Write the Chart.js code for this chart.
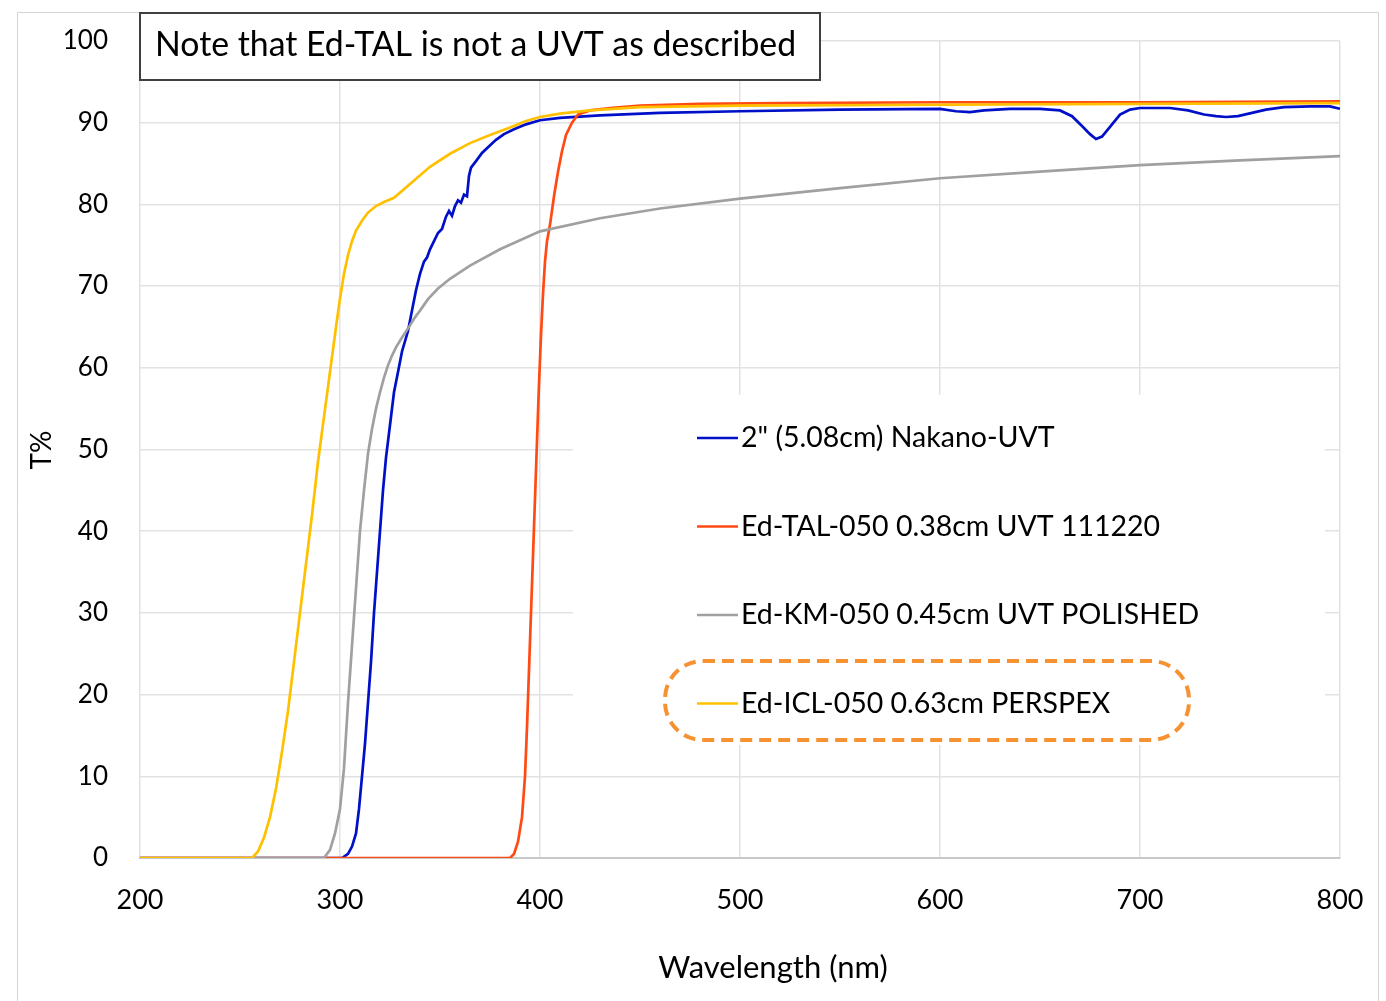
<!DOCTYPE html>
<html>
<head>
<meta charset="utf-8">
<script src="https://cdn.jsdelivr.net/npm/chart.js@4.4.1/dist/chart.umd.min.js"></script>
<style>
  body { margin: 0; background: #fff; }
  #wrap { width: 1386px; height: 1001px; }
</style>
</head>
<body>
<div id="wrap"><canvas id="chart" width="1386" height="1001"></canvas></div>
<script>
// --- data (wavelength nm / transmission %) ---
const X_TICKS = [200, 300, 400, 500, 600, 700, 800];
const Y_TICKS = [0, 10, 20, 30, 40, 50, 60, 70, 80, 90, 100];

const SERIES_NAMES = [
    '2" (5.08cm) Nakano-UVT',
    'Ed-TAL-050 0.38cm UVT 111220',
    'Ed-KM-050 0.45cm UVT POLISHED',
    'Ed-ICL-050 0.63cm PERSPEX'
];
const SERIES_COLORS = ['#0010C8', '#FF4A14', '#A0A0A0', '#FFC000'];

const nakanoNm = [200, 301, 304, 306, 308, 309.5, 311, 312.5, 314, 315.5, 317, 318.5, 320, 321.5, 323, 325, 327, 329, 331, 334,
    336, 338, 340, 342, 343.5, 345, 347, 349, 351, 353, 354.5, 356, 357.5, 359, 360.5, 362, 363.5, 364.5, 365.5, 368,
    371, 374, 378, 382, 387, 393, 400, 410, 430, 460, 500, 550, 600, 608, 615, 622, 635, 650, 660, 666,
    671, 675, 678, 681, 685, 690, 695, 700, 715, 724, 732, 738, 743, 749, 756, 763, 772, 785, 795, 800];
const nakanoT = [0, 0, 0.5, 1.4, 3, 6, 10, 14, 19, 24, 30, 35, 40, 45, 49, 53, 57, 59.5, 62, 64.5,
    67, 69.5, 71.5, 73, 73.5, 74.5, 75.5, 76.5, 77, 78.5, 79.2, 78.6, 79.8, 80.5, 80.2, 81.2, 81, 83.5, 84.5, 85.3,
    86.3, 87, 87.9, 88.6, 89.2, 89.8, 90.3, 90.6, 90.9, 91.2, 91.4, 91.6, 91.7, 91.4, 91.3, 91.5, 91.7, 91.7, 91.5, 90.8,
    89.6, 88.6, 88.0, 88.3, 89.5, 91.0, 91.6, 91.8, 91.8, 91.5, 91.0, 90.8, 90.7, 90.8, 91.2, 91.6, 91.9, 92.0, 92.0, 91.7];

const talNm = [200, 385, 387, 389, 391, 392.5, 393.5, 394.5, 395.5, 396.5, 397.5, 398.5, 399.5, 400.5, 401.5, 402.5,
    403.5, 405, 407, 409, 411, 413, 416, 419, 425, 435, 450, 480, 520, 600, 700, 800];
const talT = [0, 0, 0.5, 2, 5, 10, 16, 23, 30, 37, 44, 51, 58, 64, 69, 73,
    75.5, 77.5, 81, 84, 86.5, 88.5, 90, 91, 91.5, 91.8, 92.1, 92.3, 92.4, 92.5, 92.5, 92.6];

const kmNm = [200, 292, 295, 297.5, 300, 302, 304, 306, 308, 310, 312, 314, 316, 318, 320, 322, 324, 326, 328, 331,
    334, 337, 340, 344, 349, 355, 365, 380, 400, 430, 460, 500, 550, 600, 650, 700, 750, 800];
const kmT = [0, 0, 1, 3, 6, 11, 19, 26, 33, 40, 45, 49.5, 52.5, 55, 57, 58.8, 60.3, 61.5, 62.5, 63.7,
    64.8, 66, 67, 68.4, 69.7, 70.9, 72.5, 74.5, 76.7, 78.3, 79.5, 80.7, 82, 83.2, 84, 84.8, 85.4, 85.9];

const iclNm = [200, 256, 259, 262, 265, 268, 271, 274, 277, 280, 283, 286, 289, 292, 295, 298, 300, 302, 304, 306,
    308, 311, 314, 318, 322, 327, 335, 345, 355, 365, 375, 385, 393, 400, 410, 425, 450, 500, 600, 700, 800];
const iclT = [0, 0, 0.8, 2.5, 5, 8.5, 13, 18, 24, 30, 36, 42, 48.5, 54, 59.5, 65, 68.5, 71.5, 73.8, 75.5,
    76.8, 78, 79, 79.8, 80.3, 80.8, 82.5, 84.6, 86.2, 87.5, 88.5, 89.4, 90.2, 90.7, 91.1, 91.5, 91.9, 92.1, 92.2, 92.3, 92.4];

const NOTE_TEXT = 'Note that Ed-TAL is not a UVT as described';
const X_TITLE = 'Wavelength (nm)';
const Y_TITLE = 'T%';

const FONT = 'Lato, "Open Sans", sans-serif';

const pairs = (xs, ys) => xs.map((x, i) => ({ x: x, y: ys[i] }));
const seriesData = [pairs(nakanoNm, nakanoT), pairs(talNm, talT), pairs(kmNm, kmT), pairs(iclNm, iclT)];

// --- decorations: frame, note box, legend box, axis titles ---
const decorPlugin = {
    id: 'decor',
    beforeDraw(chart) {
        const ctx = chart.ctx;
        ctx.save();
        ctx.fillStyle = '#fff';
        ctx.fillRect(0, 0, chart.width, chart.height);
        ctx.strokeStyle = '#d4d4d4';
        ctx.lineWidth = 1;
        ctx.beginPath();
        ctx.moveTo(17.5, 1001);
        ctx.lineTo(17.5, 12.5);
        ctx.lineTo(1378.5, 12.5);
        ctx.lineTo(1378.5, 1001);
        ctx.stroke();
        ctx.restore();
    },
    beforeDatasetsDraw(chart) {
        // legend background hides the grid
        const ctx = chart.ctx;
        ctx.save();
        ctx.fillStyle = '#fff';
        ctx.fillRect(573, 395, 752, 350);
        ctx.restore();
    },
    afterDraw(chart) {
        const ctx = chart.ctx;
        ctx.save();

        // note box
        ctx.fillStyle = '#fff';
        ctx.fillRect(139, 12, 681, 68);
        ctx.strokeStyle = '#404040';
        ctx.lineWidth = 2;
        ctx.strokeRect(140, 13, 680, 67);
        ctx.fillStyle = '#000';
        ctx.font = '33.8px ' + FONT;
        ctx.textBaseline = 'middle';
        ctx.textAlign = 'left';
        ctx.fillText(NOTE_TEXT, 155, 45);

        // legend
        ctx.font = '28.5px ' + FONT;
        SERIES_NAMES.forEach((name, i) => {
            const y = 438 + i * 88.5;
            ctx.strokeStyle = SERIES_COLORS[i];
            ctx.lineWidth = 2.5;
            ctx.beginPath();
            ctx.moveTo(697, y);
            ctx.lineTo(738, y);
            ctx.stroke();
            ctx.fillStyle = '#000';
            ctx.fillText(name, 741, y);
        });

        // dashed highlight round the last entry
        ctx.strokeStyle = '#F79232';
        ctx.lineWidth = 4;
        ctx.setLineDash([12, 7]);
        ctx.beginPath();
        ctx.roundRect(665, 661, 524, 79, 38);
        ctx.stroke();
        ctx.setLineDash([]);

        // axis titles
        ctx.fillStyle = '#000';
        ctx.font = '31px ' + FONT;
        ctx.textAlign = 'center';
        ctx.fillText(X_TITLE, 773, 968);
        ctx.font = '28px ' + FONT;
        ctx.translate(42, 450);
        ctx.rotate(-Math.PI / 2);
        ctx.fillText(Y_TITLE, 0, 0);
        ctx.restore();
    }
};

new Chart(document.getElementById('chart'), {
    type: 'line',
    data: {
        datasets: seriesData.map((d, i) => ({
            label: SERIES_NAMES[i],
            data: d,
            borderColor: SERIES_COLORS[i],
            backgroundColor: SERIES_COLORS[i],
            borderWidth: 2.7,
            pointRadius: 0,
            tension: 0,
            order: 3 - i
        }))
    },
    options: {
        responsive: false,
        animation: false,
        layout: { padding: { left: 0, top: 41, right: 46, bottom: 0 } },
        plugins: {
            legend: { display: false },
            tooltip: { enabled: false }
        },
        scales: {
            x: {
                type: 'linear',
                min: 200,
                max: 800,
                afterBuildTicks: (scale) => { scale.ticks = X_TICKS.map(v => ({ value: v })); },
                afterFit: (scale) => {
                    scale.height = 143;
                    scale.paddingLeft = 0;
                    scale.paddingRight = 0;
                },
                grid: { color: '#e2e2e2', lineWidth: 1.5, drawTicks: false },
                border: { color: '#c8c8c8', width: 2 },
                ticks: { color: '#000', font: { size: 27, family: FONT }, padding: 26, maxRotation: 0 }
            },
            y: {
                min: 0,
                max: 100,
                afterBuildTicks: (scale) => { scale.ticks = Y_TICKS.map(v => ({ value: v })); },
                afterFit: (scale) => {
                    scale.width = 140;
                    scale.paddingTop = 0;
                    scale.paddingBottom = 0;
                },
                grid: { color: '#e2e2e2', lineWidth: 1.5, drawTicks: false },
                border: { display: false },
                ticks: { color: '#000', font: { size: 26, family: FONT }, padding: 32 }
            }
        }
    },
    plugins: [decorPlugin]
});
</script>
</body>
</html>
